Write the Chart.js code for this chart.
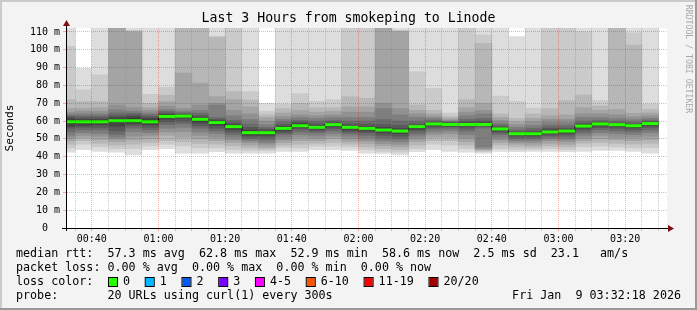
<!DOCTYPE html>
<html>
<head>
<meta charset="utf-8">
<script src="https://cdn.jsdelivr.net/npm/chart.js@4.4.1/dist/chart.umd.min.js"></script>
<style>
  html, body { margin: 0; padding: 0; background: #f3f3f3; }
  canvas { display: block; }
</style>
</head>
<body>
<canvas id="smoke" width="697" height="310"></canvas>
<script>
// start of each 5 minute slot
var slots = ['00:30','00:35','00:40','00:45','00:50','00:55','01:00','01:05','01:10','01:15','01:20','01:25',
             '01:30','01:35','01:40','01:45','01:50','01:55','02:00','02:05','02:10','02:15','02:20','02:25',
             '02:30','02:35','02:40','02:45','02:50','02:55','03:00','03:05','03:10','03:15','03:20','03:25'];

// median rtt (ms)
var median = [59.6, 59.6, 59.6, 60.2, 60.2, 59.6, 62.6, 62.8, 61.0, 59.2, 56.9, 53.5,
              53.5, 55.9, 57.4, 56.5, 58.0, 56.5, 55.9, 55.0, 54.4, 56.9, 58.4, 58.1,
              58.1, 58.1, 55.6, 52.9, 52.9, 53.9, 54.4, 57.2, 58.4, 58.0, 57.4, 58.6];

// the 20 pings of each slot, sorted (ms)
var ping01 = [42.5, 44, 43, 42.5, 41, 44, 44.5, 42, 42, 42.8, 42, 42, 42, 43, 43, 44, 44, 43.5, 42, 41.8, 41, 42.8, 44, 43, 42.5, 42, 43, 42.8, 43, 43, 42.8, 43, 43.5, 43.5, 43, 42];
var ping02 = [45, 47, 45.5, 44.5, 44.5, 46, 47, 46, 45, 45, 44, 43.5, 43.5, 45, 45, 46, 46, 45.5, 44, 43, 42.5, 44.5, 47, 46.5, 44.5, 42.8, 44.5, 44, 44, 44.5, 44, 45.5, 46, 45.5, 45, 45];
var ping03 = [47, 49, 47.5, 46.5, 47, 48, 49, 48.5, 47.5, 47, 46, 45, 44.5, 46.5, 47, 47.5, 48, 47, 45.5, 44.5, 44, 46.5, 49, 49, 46.5, 43.5, 46.5, 45.5, 45.3, 46, 45.5, 47.5, 48, 47.5, 47, 47.5];
var ping04 = [49, 50.5, 49.5, 48.5, 49.5, 50, 52, 51, 50, 49, 48, 46.5, 45.5, 48, 49, 49, 50, 48.5, 47.5, 46, 45.5, 48.5, 51, 51, 48.5, 44, 48, 47, 46.5, 47.5, 47, 49, 50, 49.5, 49, 49.5];
var ping05 = [50.5, 52, 51.5, 50, 51.5, 52, 54, 54, 52, 51, 49.5, 48, 47, 49.5, 51, 50.5, 51.5, 50, 49, 47.5, 47, 50, 52.5, 53, 50.5, 44.5, 49.5, 48, 47.8, 49, 48.5, 50.5, 52, 51, 51, 51.5];
var ping06 = [52, 53.5, 53, 51, 54, 53.5, 56, 56.5, 54, 53, 51, 49, 48, 51, 52.5, 52, 53, 51.5, 50.5, 49, 48.5, 51.5, 54, 54.5, 52.5, 45.5, 51, 49, 49, 50, 49.8, 52, 53.5, 53, 52.5, 53.5];
var ping07 = [54, 55, 55, 52.5, 56, 55, 58, 58.5, 56, 54.5, 52.5, 50, 49.5, 52.5, 54, 53.5, 54.5, 53, 52, 50.5, 50, 53, 55.5, 55.8, 54.5, 56, 52.5, 50, 50, 51, 51, 53.5, 55, 54.5, 54, 55];
var ping08 = [56, 56.5, 56.5, 54.5, 57.5, 56.5, 59.5, 60, 57.5, 56, 54, 51, 51, 53.5, 55.5, 54.5, 55.8, 54, 53.5, 52, 51.5, 54.5, 56.5, 56.8, 56, 57, 53.5, 51, 51, 52, 52.3, 55, 56.3, 56, 55.3, 56.5];
var ping09 = [57, 57.5, 58, 57, 58.5, 58, 61, 61.5, 59, 57.5, 55.3, 52, 52, 54.5, 56.5, 55.5, 56.8, 55, 54.5, 53.5, 53, 55.5, 57.3, 57.2, 57.3, 57.5, 54.5, 52, 51.8, 53, 53.3, 56, 57.3, 57, 56.3, 57.5];
var ping10 = [58.5, 59, 59, 59.5, 59.5, 59, 62, 62.5, 60, 58.5, 56.3, 53, 53, 55.3, 57.3, 56, 57.5, 55.8, 55.4, 54.7, 54, 56.2, 58, 57.8, 57.8, 57.8, 55.2, 52.6, 52.5, 53.5, 54, 56.8, 58, 57.6, 57, 58.2];
var ping11 = [60.5, 60.3, 60.3, 61, 61.3, 60.5, 63, 63.2, 61.2, 59.6, 57.3, 54, 54, 56.3, 58.2, 56.8, 58.4, 56.7, 56.3, 55.6, 54.8, 57, 58.6, 58.4, 58.4, 58.4, 55.9, 53.1, 53.2, 54.3, 54.7, 57.5, 58.7, 58.2, 57.7, 58.9];
var ping12 = [61.5, 61, 61, 62, 62.5, 61.5, 63.8, 63.5, 62, 60.2, 58, 55, 54.5, 57, 58.7, 57.5, 58.8, 57.3, 57, 56.5, 55.8, 57.5, 59, 58.8, 59, 59, 56.3, 53.5, 53.7, 55, 55.2, 58, 59, 58.5, 58, 59.2];
var ping13 = [62.5, 62, 62, 63, 63.5, 62.5, 64.5, 64, 63, 61, 59, 56.5, 55.5, 58, 59.5, 58.5, 59.5, 58.5, 58.3, 58, 57.5, 58.5, 59.5, 59.2, 59.8, 60, 57, 54, 54.5, 56, 56, 58.8, 59.5, 59, 58.5, 59.7];
var ping14 = [63, 63, 63, 64.5, 64.5, 63.5, 65.5, 64.7, 64.5, 62, 60.5, 58.5, 56.5, 59.5, 60.5, 60, 60.5, 60, 60, 61, 60, 60, 60.5, 59.5, 61, 61.5, 58, 55, 56, 57.3, 57.5, 60, 60.5, 60, 59.5, 60.5];
var ping15 = [64, 64, 64, 66.3, 65.5, 64.5, 66.5, 65.5, 66, 69, 63, 61, 58, 61, 62, 61.5, 62, 62, 62, 67, 63.5, 62, 61.5, 60, 63, 64, 59, 56.5, 57.5, 59, 59, 62, 62, 61.5, 60.8, 61.5];
var ping16 = [65, 65.5, 65.5, 69, 67.5, 66, 68.5, 67, 69, 70, 66, 64, 60, 62.5, 63.5, 63, 63.5, 65, 65, 70, 67, 64, 62.5, 60.5, 65, 66, 60.5, 58, 59.5, 61, 61, 64, 64, 63.5, 62.3, 63];
var ping17 = [67, 67, 67.5, 114, 110, 67.5, 71, 87, 81.3, 73.7, 72, 68, 62, 64.5, 66, 65, 65.5, 68, 68, 115, 110.2, 66, 64, 61.5, 67.5, 70, 62, 59.5, 61.5, 63, 63.5, 67.5, 66, 66.5, 64.3, 64.5];
var ping18 = [72, 71, 71, 120, 110.5, 70, 74.5, 118, 118, 107, 76.5, 71.8, 63.5, 67, 70, 67.5, 67.5, 73.7, 72.8, 122, 110.5, 69, 66, 62.5, 72, 103.6, 64, 61.5, 64, 67, 71.5, 74.6, 68.5, 118, 102.7, 66.5];
var ping19 = [102, 77.5, 86, 128, 111, 75, 79, 125, 125, 107.5, 116, 76.5, 65.5, 69.5, 75.5, 71, 72, 116, 116, 130, 111, 87.7, 78.4, 64.5, 116, 108.3, 74, 71, 67.3, 116, 116, 110.2, 71.5, 125, 109.5, 69.5];
var ping20 = [115, 89.6, 118, 135, 120, 116, 118, 135, 135, 118, 125, 120, 70, 118, 118, 118, 118, 125, 125, 140, 120, 118, 118, 118, 125, 115, 118, 107.4, 118, 125, 125, 118, 118, 135, 118, 118];

var xGridMinutes = [35, 40, 45, 50, 55, 60, 65, 70, 75, 80, 85, 90, 95, 100, 105, 110, 115, 120, 125, 130,
                    135, 140, 145, 150, 155, 160, 165, 170, 175, 180, 185, 190, 195, 200, 205, 210];
var yGridMs = [0, 5, 10, 15, 20, 25, 30, 35, 40, 45, 50, 55, 60, 65, 70, 75, 80, 85, 90, 95, 100, 105, 110];

var lossLabels = ['0', '1', '2', '3', '4-5', '6-10', '11-19', '20/20'];
var lossColors = ['#26ff00', '#00b8ff', '#0059ff', '#7e00ff', '#ff00ff', '#ff5500', '#ff0000', '#a10000'];

var titleText = 'Last 3 Hours from smokeping to Linode';
var legendLines = [
  'median rtt:  57.3 ms avg  62.8 ms max  52.9 ms min  58.6 ms now  2.5 ms sd  23.1   am/s',
  'packet loss: 0.00 % avg  0.00 % max  0.00 % min  0.00 % now',
  'loss color:',
  'probe:       20 URLs using curl(1) every 300s'
];
var stampText = 'Fri Jan  9 03:32:18 2026';

var MONO = '"DejaVu Sans Mono", monospace';
var MAJOR = 'rgba(255,0,0,0.33)';
var MINOR = 'rgba(140,140,140,0.45)';

function toMin(s) { var p = s.split(':'); return +p[0] * 60 + +p[1]; }
function pad(n) { return (n < 10 ? '0' : '') + n; }
var centers = slots.map(function (s) { return toMin(s) + 2.5; });
var pings = [ping01, ping02, ping03, ping04, ping05, ping06, ping07, ping08, ping09, ping10,
             ping11, ping12, ping13, ping14, ping15, ping16, ping17, ping18, ping19, ping20];

var datasets = [];
// smoke: band k spans ping k .. ping 21-k, darker towards the middle
for (var k = 0; k < 10; k++) {
  var lo = pings[k], hi = pings[19 - k];
  var g = Math.floor(190 / 10 * (9 - k)) + 50;
  datasets.push({
    type: 'bar',
    data: centers.map(function (x, i) { return { x: x, y: [lo[i], hi[i]] }; }),
    backgroundColor: 'rgb(' + g + ',' + g + ',' + g + ')',
    borderWidth: 0,
    grouped: false,
    barPercentage: 1,
    categoryPercentage: 1,
    clip: 0,
    order: 20 - k
  });
}
var medianPts = centers.map(function (x, i) { return { x: x, y: median[i] }; });
datasets.push({
  type: 'line',
  data: medianPts,
  stepped: 'middle',
  borderColor: '#000',
  borderWidth: 1,
  pointRadius: 0,
  clip: 0,
  order: 2
});
datasets.push({
  type: 'line',
  data: medianPts,
  showLine: false,
  pointStyle: 'line',
  pointRadius: function (c) {
    var s = c.chart.scales.x;
    return (s.getPixelForValue(5) - s.getPixelForValue(0)) / 2;
  },
  pointBorderWidth: 3,
  pointBorderColor: lossColors[0],
  pointBackgroundColor: lossColors[0],
  clip: 0,
  order: 1
});

var frame = {
  id: 'frame',
  beforeDraw: function (chart) {
    var ctx = chart.ctx, a = chart.chartArea, w = chart.width, h = chart.height;
    ctx.save();
    ctx.fillStyle = '#f3f3f3';
    ctx.fillRect(0, 0, w, h);
    ctx.fillStyle = '#cbcbcb';
    ctx.fillRect(0, 0, w, 2);
    ctx.fillRect(0, 0, 2, h);
    ctx.fillStyle = '#999999';
    ctx.fillRect(0, h - 2, w, 2);
    ctx.fillRect(w - 2, 0, 2, h);
    ctx.fillStyle = '#ffffff';
    ctx.fillRect(a.left, a.top, a.right - a.left, a.bottom - a.top);
    ctx.restore();
  },
  afterDraw: function (chart) {
    var ctx = chart.ctx, a = chart.chartArea;
    ctx.save();
    // axes with arrows
    ctx.fillStyle = '#000';
    ctx.fillRect(a.left - 5, a.bottom, a.right - a.left + 7, 1);
    ctx.fillRect(a.left - 1, a.top - 4, 1, a.bottom - a.top + 7);
    ctx.fillStyle = '#7f1010';
    ctx.beginPath();
    ctx.moveTo(a.left - 0.5, a.top - 8);
    ctx.lineTo(a.left - 4, a.top - 2);
    ctx.lineTo(a.left + 3, a.top - 2);
    ctx.closePath();
    ctx.fill();
    ctx.beginPath();
    ctx.moveTo(a.right + 7, a.bottom + 0.5);
    ctx.lineTo(a.right + 1, a.bottom - 3);
    ctx.lineTo(a.right + 1, a.bottom + 4);
    ctx.closePath();
    ctx.fill();

    ctx.fillStyle = '#000';
    ctx.textBaseline = 'middle';
    ctx.textAlign = 'center';
    ctx.font = '13.2px ' + MONO;
    ctx.fillText(titleText, chart.width / 2, 19);

    ctx.save();
    ctx.translate(10, (a.top + a.bottom) / 2);
    ctx.rotate(-Math.PI / 2);
    ctx.font = '11.2px ' + MONO;
    ctx.fillText('Seconds', 0, 0);
    ctx.restore();

    ctx.save();
    ctx.translate(688, 59);
    ctx.rotate(Math.PI / 2);
    ctx.font = '8.2px ' + MONO;
    ctx.fillStyle = '#a8a8a8';
    ctx.fillText('RRDTOOL / TOBI OETIKER', 0, 0);
    ctx.restore();

    ctx.font = '11.7px ' + MONO;
    ctx.textAlign = 'left';
    var rows = [254, 268, 282, 296];
    legendLines.forEach(function (t, i) { ctx.fillText(t, 16, rows[i]); });

    var x = 109;
    lossLabels.forEach(function (t, i) {
      ctx.fillStyle = lossColors[i];
      ctx.fillRect(x, rows[2] - 4, 8, 8);
      ctx.strokeStyle = '#000';
      ctx.lineWidth = 1;
      ctx.strokeRect(x - 0.5, rows[2] - 4.5, 9, 9);
      ctx.fillStyle = '#000';
      ctx.fillText(t, x + 14, rows[2]);
      x = x + 14 + ctx.measureText(t).width + 15.7;
    });

    ctx.textAlign = 'right';
    ctx.fillText(stampText, 681, rows[3]);
    ctx.restore();
  }
};

function gridColor(step) {
  return function (c) { return c.tick && c.tick.value % step === 0 ? MAJOR : MINOR; };
}

new Chart(document.getElementById('smoke'), {
  type: 'bar',
  data: { datasets: datasets },
  plugins: [frame],
  options: {
    responsive: false,
    animation: false,
    events: [],
    devicePixelRatio: 1,
    layout: { padding: { left: 0, right: 30, top: 28, bottom: 0 } },
    plugins: { legend: { display: false }, tooltip: { enabled: false } },
    scales: {
      x: {
        type: 'linear',
        min: 32.55,
        max: 212.55,
        offset: false,
        afterBuildTicks: function (s) { s.ticks = xGridMinutes.map(function (v) { return { value: v }; }); },
        afterFit: function (s) { s.height = 82; },
        grid: { z: 1, offset: false, color: gridColor(20), tickColor: gridColor(20), tickLength: 3 },
        border: { display: false, dash: [1, 1] },
        ticks: {
          autoSkip: false, maxRotation: 0, padding: 2, color: '#000',
          font: { family: MONO, size: 10 },
          callback: function (v) { return v % 20 === 0 ? pad(Math.floor(v / 60)) + ':' + pad(v % 60) : ''; }
        }
      },
      y: {
        min: 0,
        max: 112.24,
        afterBuildTicks: function (s) { s.ticks = yGridMs.map(function (v) { return { value: v }; }); },
        afterFit: function (s) { s.width = 67; },
        grid: { z: 1, color: gridColor(10), tickColor: gridColor(10), tickLength: 4 },
        border: { display: false, dash: [1, 1] },
        ticks: {
          padding: 3, color: '#000',
          font: { family: MONO, size: 10 },
          callback: function (v) { return v % 10 !== 0 ? '' : (v === 0 ? '0  ' : v + ' m'); }
        }
      }
    }
  }
});
</script>
</body>
</html>
